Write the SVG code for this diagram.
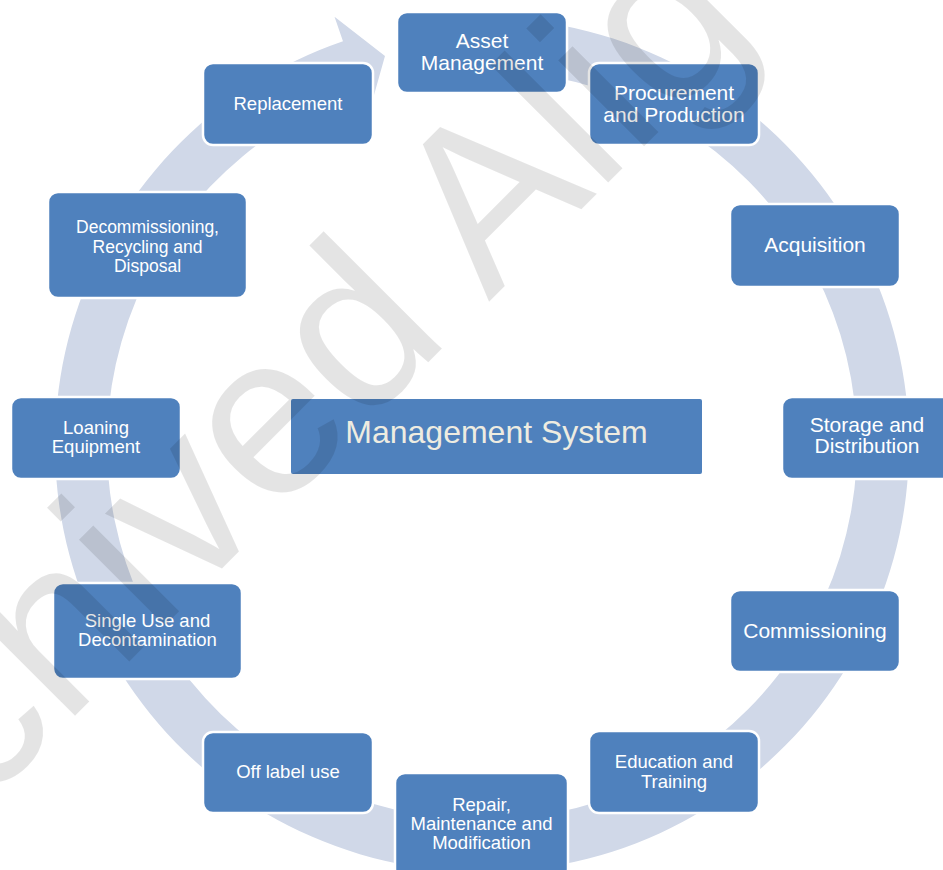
<svg xmlns="http://www.w3.org/2000/svg" width="943" height="870" viewBox="0 0 943 870">
<style>
.node{fill:#4F81BD;stroke:#FFFFFF;stroke-width:2.5}
.t{font-family:"Liberation Sans",Arial,sans-serif;fill:#FFFFFF;text-anchor:middle}
.big{font-size:21px}
.sm{font-size:18.5px}
.ring{fill:#D0D8E8;stroke:none}
.wm{font-family:"Liberation Sans",Arial,sans-serif;font-size:230px;fill:#000000;fill-opacity:0.105}
</style>
<rect width="943" height="870" fill="#FFFFFF"/>
<g id="connectors">
<path class="ring" d="M563.48,25.84 A427,427 0 1 1 342.98,41.26 L334.52,16.68 L384.99,55.91 L368.38,115.01 L359.91,90.43 A375,375 0 1 0 553.55,76.89 Z"/>
</g>
<g id="center">
<rect x="291" y="399" width="411" height="75" rx="2" fill="#4F81BD"/>
<text class="t" x="496.5" y="443" style="font-size:32px;fill:#EEECE1">Management System</text>
</g>
<g id="asset">
<rect class="node" x="397" y="12" width="170" height="81" rx="10"/>
<text class="t big" x="482" y="48">Asset</text>
<text class="t big" x="482" y="70">Management</text>
</g>
<g id="procurement">
<rect class="node" x="589" y="63" width="170" height="82" rx="10"/>
<text class="t big" x="674" y="100">Procurement</text>
<text class="t big" x="674" y="122">and Production</text>
</g>
<g id="acquisition">
<rect class="node" x="730" y="204" width="170" height="83" rx="10"/>
<text class="t big" x="815" y="252">Acquisition</text>
</g>
<g id="storage">
<rect class="node" x="782" y="397" width="170" height="82" rx="10"/>
<text class="t big" x="867" y="432">Storage and</text>
<text class="t big" x="867" y="453">Distribution</text>
</g>
<g id="commissioning">
<rect class="node" x="730" y="590" width="170" height="82" rx="10"/>
<text class="t big" x="815" y="638">Commissioning</text>
</g>
<g id="education">
<rect class="node" x="589" y="731" width="170" height="82" rx="10"/>
<text class="t sm" x="674" y="768">Education and</text>
<text class="t sm" x="674" y="788">Training</text>
</g>
<g id="repair">
<rect class="node" x="395" y="773" width="173" height="106" rx="10"/>
<text class="t sm" x="481.5" y="811">Repair,</text>
<text class="t sm" x="481.5" y="830">Maintenance and</text>
<text class="t sm" x="481.5" y="849">Modification</text>
</g>
<g id="offlabel">
<rect class="node" x="203" y="732" width="170" height="81" rx="10"/>
<text class="t sm" x="288" y="778">Off label use</text>
</g>
<g id="singleuse">
<rect class="node" x="53" y="583" width="189" height="96" rx="10"/>
<text class="t sm" x="147.5" y="627">Single Use and</text>
<text class="t sm" x="147.5" y="646">Decontamination</text>
</g>
<g id="loaning">
<rect class="node" x="11" y="397" width="170" height="82" rx="10"/>
<text class="t sm" x="96" y="434">Loaning</text>
<text class="t sm" x="96" y="453">Equipment</text>
</g>
<g id="decommissioning">
<rect class="node" x="48" y="192" width="199" height="106" rx="10"/>
<text class="t" x="147.5" y="233" style="font-size:17.5px">Decommissioning,</text>
<text class="t" x="147.5" y="252.5" style="font-size:17.5px">Recycling and</text>
<text class="t" x="147.5" y="272" style="font-size:17.5px">Disposal</text>
</g>
<g id="replacement">
<rect class="node" x="203" y="63" width="170" height="82" rx="10"/>
<text class="t sm" x="288" y="110">Replacement</text>
</g>
<g id="watermark">
<text class="wm" transform="rotate(-45)" x="-814" y="559">Archived Alig</text>
</g>
</svg>
